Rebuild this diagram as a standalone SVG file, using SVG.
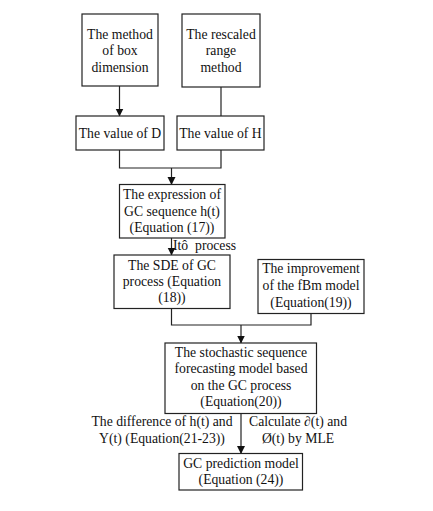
<svg xmlns="http://www.w3.org/2000/svg" width="433" height="511" viewBox="0 0 433 511">
<style>
.b{fill:#fff;stroke:#222;stroke-width:1.2}
text{font-family:"Liberation Serif","Times New Roman",serif;font-size:13.7px;fill:#111;text-anchor:middle}
.c path,.c line,.c polyline{fill:none;stroke:#222;stroke-width:1.2}
</style>
<defs>
<marker id="ah" markerWidth="8" markerHeight="9" refX="7.5" refY="4" orient="auto" markerUnits="userSpaceOnUse">
<path d="M0,0 L8,4 L0,8 Z" fill="#111"/>
</marker>
</defs>
<rect x="0" y="0" width="433" height="511" fill="#fff"/>
<g class="c" id="connectors">
<line x1="119.5" y1="86" x2="119.5" y2="116" marker-end="url(#ah)"/>
<line x1="221" y1="87" x2="221" y2="116"/>
<polyline points="119.5,150 119.5,168 221,168 221,150"/>
<line x1="171.5" y1="168" x2="171.5" y2="184.5" marker-end="url(#ah)"/>
<line x1="171.5" y1="238" x2="171.5" y2="255" marker-end="url(#ah)"/>
<polyline points="171.5,308.5 171.5,325 311,325 311,313.5"/>
<line x1="241" y1="325" x2="241" y2="343" marker-end="url(#ah)"/>
<line x1="241" y1="413.5" x2="241" y2="453.5" marker-end="url(#ah)"/>
</g>
<g id="n1"><rect class="b" x="82" y="14" width="76" height="72"/>
<text x="120" y="38.5">The method</text><text x="120" y="55">of box</text><text x="120" y="71.5">dimension</text></g>
<g id="n2"><rect class="b" x="182" y="14" width="78" height="73"/>
<text x="221" y="38.5">The rescaled</text><text x="221" y="55">range</text><text x="221" y="71.5">method</text></g>
<g id="n3"><rect class="b" x="76" y="116" width="88" height="34"/><text x="120" y="138">The value of D</text></g>
<g id="n4"><rect class="b" x="177" y="116" width="87" height="34"/><text x="220.5" y="138">The value of H</text></g>
<g id="n5"><rect class="b" x="119.5" y="184.5" width="105.5" height="53.5"/>
<text x="172" y="199">The expression of</text><text x="172" y="215.5">GC sequence h(t)</text><text x="172" y="232">(Equation (17))</text></g>
<text x="173" y="250" style="text-anchor:start;white-space:pre" xml:space="preserve">Itô  process</text>
<g id="n6"><rect class="b" x="114" y="255" width="116" height="53.5"/>
<text x="172" y="270">The SDE of GC</text><text x="172" y="286">process (Equation</text><text x="172" y="302">(18))</text></g>
<g id="n7"><rect class="b" x="258" y="259.5" width="106" height="54"/>
<text x="311" y="273">The improvement</text><text x="311" y="289.5">of the fBm model</text><text x="311" y="306.5">(Equation(19))</text></g>
<g id="n8"><rect class="b" x="165" y="343" width="151.5" height="70.5"/>
<text x="241" y="357">The stochastic sequence</text><text x="241" y="373">forecasting model based</text><text x="241" y="389.5">on the GC process</text><text x="241" y="406">(Equation(20))</text></g>
<text x="162" y="426">The difference of h(t) and</text>
<text x="162" y="442.5">Y(t) (Equation(21-23))</text>
<text x="298" y="426">Calculate ∂(t) and</text>
<text x="298" y="442.5">Ø(t) by MLE</text>
<g id="n9"><rect class="b" x="179" y="453.5" width="123.5" height="36.5"/>
<text x="241" y="467.5">GC prediction model</text><text x="241" y="483.5">(Equation (24))</text></g>
</svg>
